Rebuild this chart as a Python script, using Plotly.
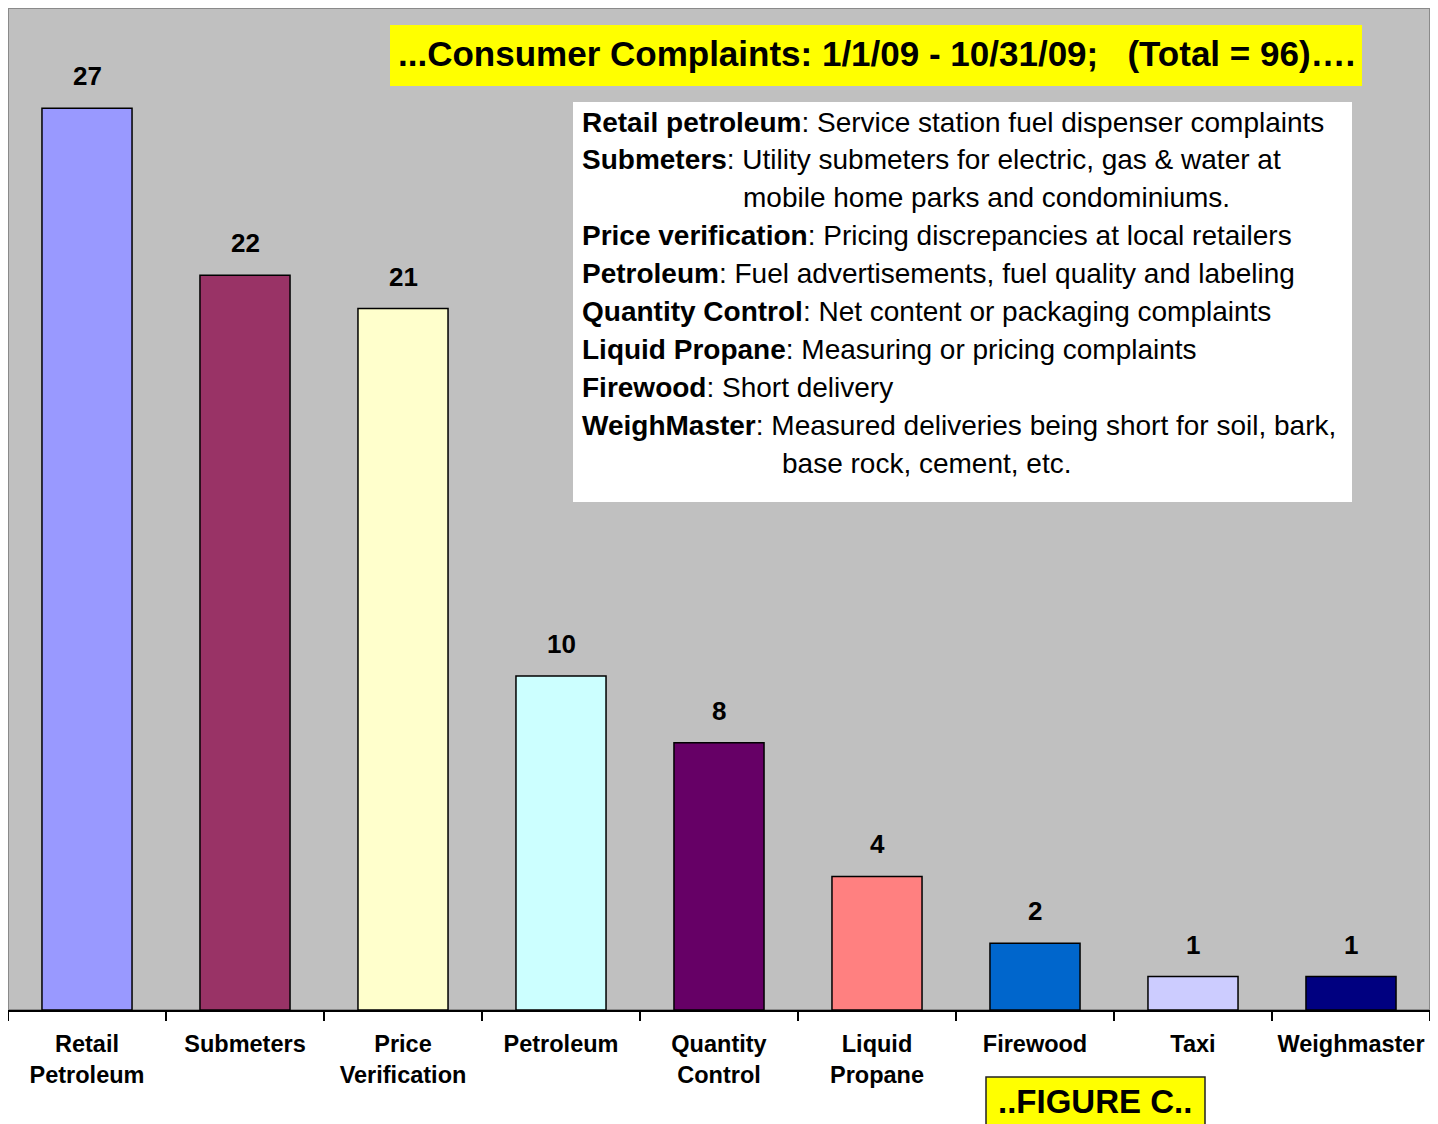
import plotly.graph_objects as go

categories = ["Retail<br>Petroleum", "Submeters", "Price<br>Verification", "Petroleum",
              "Quantity<br>Control", "Liquid<br>Propane", "Firewood", "Taxi", "Weighmaster"]
values = [27, 22, 21, 10, 8, 4, 2, 1, 1]
colors = ["#9999FF", "#993366", "#FFFFCC", "#CCFFFF", "#660066",
          "#FF8080", "#0066CC", "#CCCCFF", "#000080"]

title_text = "...Consumer Complaints: 1/1/09 - 10/31/09;   (Total = 96)…."
legend_lines = [
    ("Retail petroleum", ": Service station fuel dispenser complaints", 0),
    ("Submeters", ": Utility submeters for electric, gas & water at", 0),
    ("", "mobile home parks and condominiums.", 161),
    ("Price verification", ": Pricing discrepancies at local retailers", 0),
    ("Petroleum", ": Fuel advertisements, fuel quality and labeling", 0),
    ("Quantity Control", ": Net content or packaging complaints", 0),
    ("Liquid Propane", ": Measuring or pricing complaints", 0),
    ("Firewood", ": Short delivery", 0),
    ("WeighMaster", ": Measured deliveries being short for soil, bark,", 0),
    ("", "base rock, cement, etc.", 200),
]
figure_label = "..FIGURE C.."

# page has an 8px body margin; figure drawn at page offset (8, 8)
OFF = 8
W, H = 1438 - OFF, 1124 - OFF
L, R, T, B = 8, 1430, 8, 1010   # plot area in page pixels


def px(x):
    return (x - L) / (R - L)


def py(y):
    return (B - y) / (B - T)


FONT = "Arial, Liberation Sans, sans-serif"

fig = go.Figure(go.Bar(
    x=categories, y=values,
    marker=dict(color=colors, line=dict(color="black", width=1.5)),
    width=0.57,
    cliponaxis=False,
))

shapes = [
    dict(type="rect", xref="paper", yref="paper", x0=0, x1=1, y0=0, y1=1,
         line=dict(color="#8a8a8a", width=2), layer="below"),
    dict(type="rect", xref="paper", yref="paper", x0=px(390), x1=px(1362), y0=py(25), y1=py(86),
         fillcolor="#FFFF00", line=dict(width=0)),
    dict(type="rect", xref="paper", yref="paper", x0=px(573), x1=px(1352), y0=py(102), y1=py(502),
         fillcolor="white", line=dict(width=0)),
    dict(type="rect", xref="paper", yref="paper", x0=px(986), x1=px(1205), y0=py(1077), y1=py(1135),
         fillcolor="#FFFF00", line=dict(color="#222", width=1.5)),
]

annotations = [
    dict(xref="paper", yref="paper", x=px(876), y=py(54), text="<b>" + title_text + "</b>",
         showarrow=False, xanchor="center", yanchor="middle",
         font=dict(size=35, color="black", family=FONT)),
    dict(xref="paper", yref="paper", x=px(1095), y=py(1101), text="<b>" + figure_label + "</b>",
         showarrow=False, xanchor="center", yanchor="middle",
         font=dict(size=33, color="black", family=FONT)),
]
for c, v in zip(categories, values):
    annotations.append(dict(x=c, y=v, xref="x", yref="y", text="<b>%d</b>" % v,
                            showarrow=False, yshift=32, yanchor="middle",
                            font=dict(size=26, color="black", family=FONT)))

line_y0, line_dy = 122, 37.9
for i, (term, desc, indent) in enumerate(legend_lines):
    txt = ("<b>" + term + "</b>" if term else "") + desc
    annotations.append(dict(
        xref="paper", yref="paper", x=px(580 + indent), y=py(line_y0 + i * line_dy),
        text=txt, showarrow=False, xanchor="left", yanchor="middle",
        font=dict(size=28, color="black", family=FONT)))

fig.update_layout(
    width=W, height=H,
    margin=dict(l=L - OFF, r=(W + OFF) - R, t=T - OFF, b=(H + OFF) - B),
    paper_bgcolor="white", plot_bgcolor="#C0C0C0",
    showlegend=False,
    shapes=shapes, annotations=annotations,
    xaxis=dict(type="category", tickson="boundaries", ticks="outside", ticklen=9,
               tickcolor="black", tickwidth=1.5, showline=True, linecolor="black", linewidth=1.5,
               showgrid=False, range=[-0.5, 8.5], ticklabelstandoff=12,
               tickfont=dict(size=23.5, color="black", family=FONT, weight="bold")),
    yaxis=dict(range=[0, 30], visible=False, showgrid=False),
)

fig.write_html("out.html")
